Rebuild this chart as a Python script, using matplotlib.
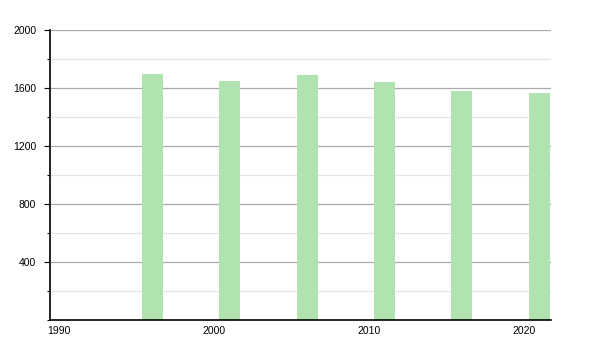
import matplotlib
matplotlib.use('Agg')
import matplotlib.pyplot as plt
from matplotlib.ticker import MultipleLocator

# census years and population
years = [1996, 2001, 2006, 2011, 2016, 2021]
population = [1697, 1648, 1690, 1641, 1579, 1566]
x_ticks = [1990, 2000, 2010, 2020]
y_ticks = [400, 800, 1200, 1600, 2000]

plt.rcParams['font.family'] = ['Liberation Sans', 'DejaVu Sans']

fig = plt.figure(figsize=(6, 3.5), dpi=100)
ax = fig.add_axes([50 / 600, 30 / 350, 501 / 600, 290 / 350])

ax.bar(years, population, width=1.36, color='#b1e3b1', zorder=2)

ax.set_xlim(1989.4, 2021.75)
ax.set_ylim(0, 2000)

ax.set_xticks(x_ticks)
ax.set_xticklabels([str(y) for y in x_ticks])
ax.set_yticks(y_ticks)
ax.set_yticklabels([str(v) for v in y_ticks])
ax.yaxis.set_minor_locator(MultipleLocator(200))

ax.grid(axis='y', which='major', color='#aaaaaa', lw=0.9, zorder=0)
ax.grid(axis='y', which='minor', color='#e4e4e4', lw=0.9, zorder=0)
ax.set_axisbelow(True)

ax.tick_params(axis='x', length=0, pad=4, labelsize=7.5)
ax.tick_params(axis='y', which='major', length=4, width=0.8, pad=6, labelsize=7.5)
ax.tick_params(axis='y', which='minor', length=2, width=0.8)

for s in ['top', 'right']:
    ax.spines[s].set_visible(False)
for s in ['left', 'bottom']:
    ax.spines[s].set_color('black')
    ax.spines[s].set_linewidth(1.2)

fig.savefig('out.png', dpi=100)
